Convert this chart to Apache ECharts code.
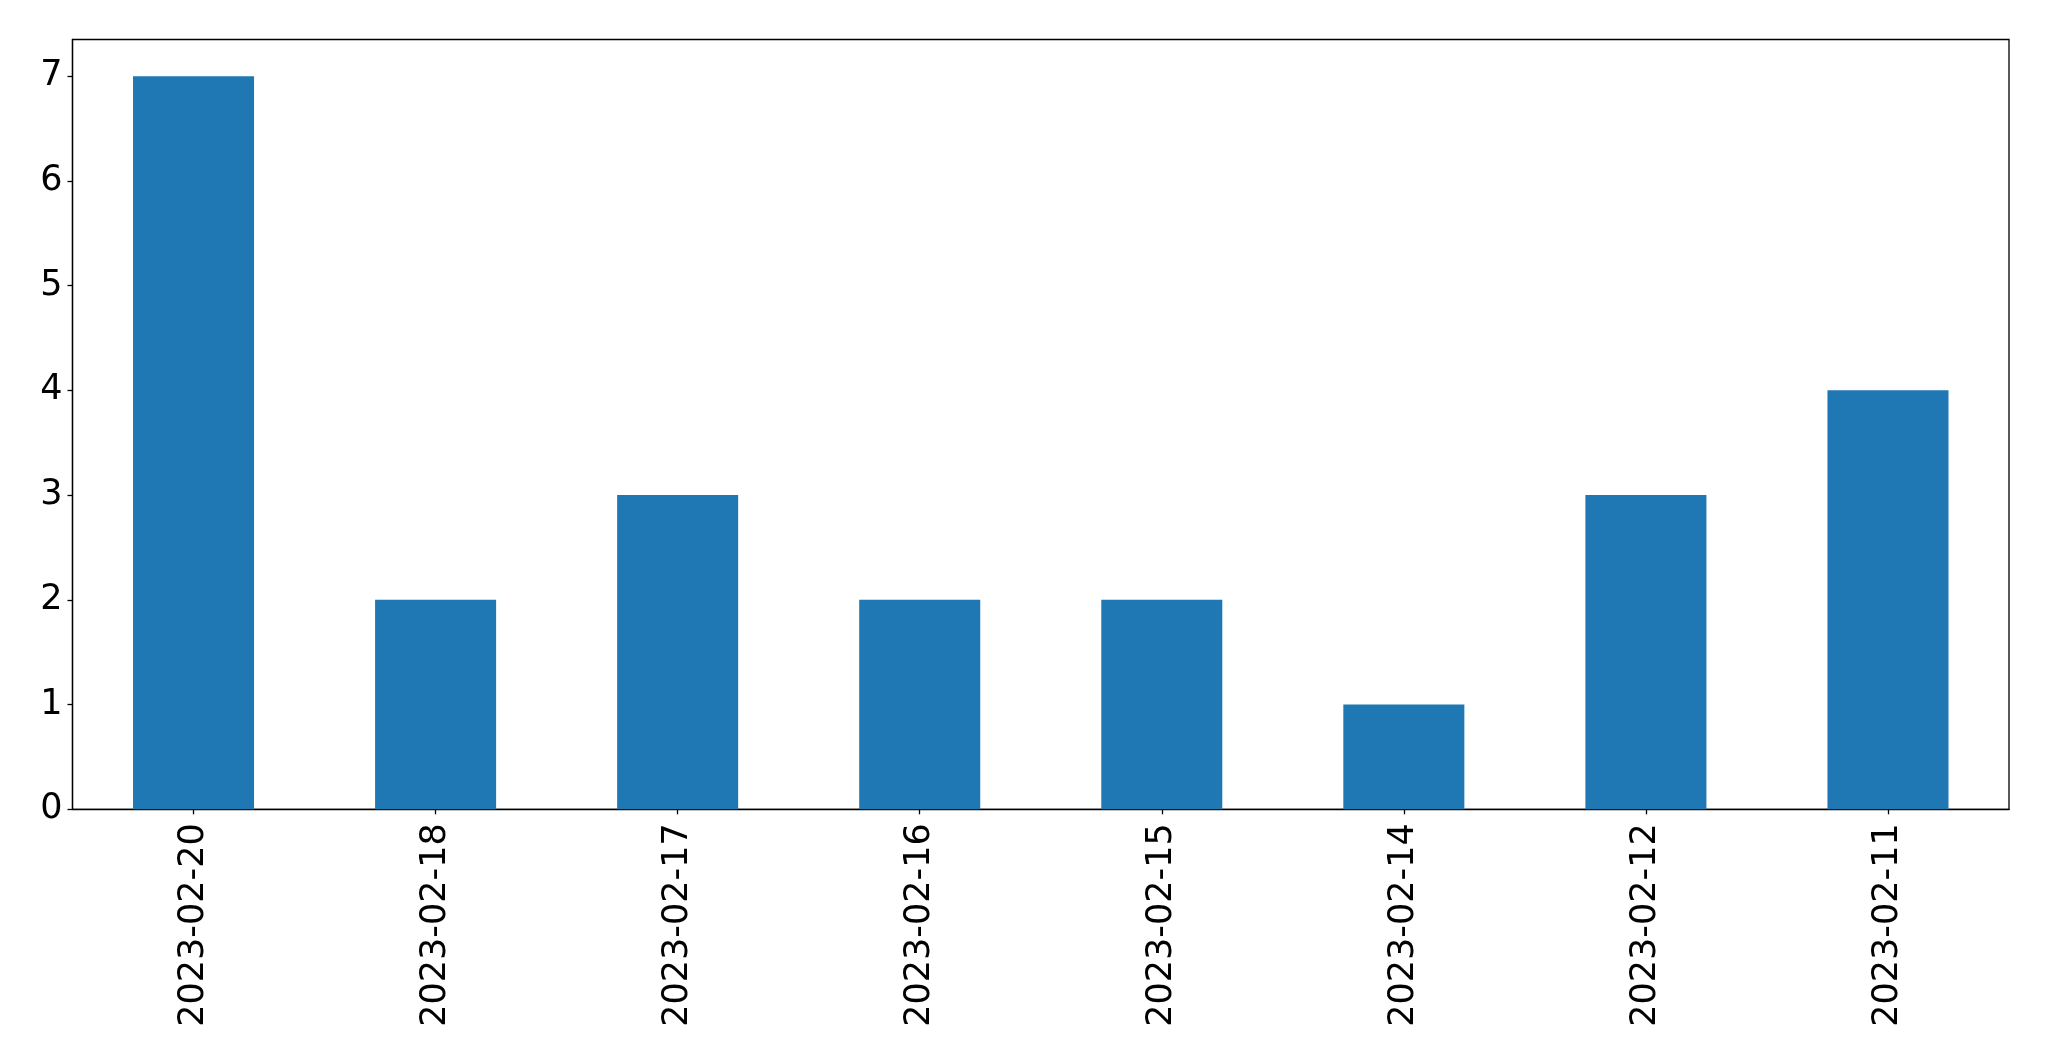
<!DOCTYPE html>
<html><head><meta charset="utf-8">
<script src="https://cdn.jsdelivr.net/npm/echarts@6/dist/echarts.min.js"></script>
<style>html,body{margin:0;padding:0;background:#fff}#c{width:2049px;height:1061px}</style>
</head><body><div id="c"></div>
<script>
const categories = ['2023-02-20','2023-02-18','2023-02-17','2023-02-16','2023-02-15','2023-02-14','2023-02-12','2023-02-11'];
const counts = [7, 2, 3, 2, 2, 1, 3, 4];
const yTicks = [0, 1, 2, 3, 4, 5, 6, 7];

const chart = echarts.init(document.getElementById('c'), null, {renderer: 'canvas'});
const font = 'DejaVu Sans';
chart.setOption({
  animation: false,
  grid: {left: 72.5, right: 40, top: 39.5, bottom: 251.7, show: true, borderColor: '#000', borderWidth: 1.3, backgroundColor: 'transparent'},
  xAxis: {
    type: 'category', data: categories, boundaryGap: true,
    axisLine: {show: true, lineStyle: {color: '#000', width: 1.3}},
    axisTick: {show: true, alignWithLabel: true, length: 5, lineStyle: {color: '#000', width: 1.3}},
    axisLabel: {rotate: 90, fontFamily: font, fontSize: 35, color: '#000', margin: 14, interval: 0},
    splitLine: {show: false}
  },
  yAxis: {
    type: 'value', min: 0, max: 7.35,
    axisLine: {show: true, lineStyle: {color: '#000', width: 1.3}},
    axisTick: {show: true, length: 5, lineStyle: {color: '#000', width: 1.3}, customValues: yTicks},
    axisLabel: {fontFamily: font, fontSize: 35, color: '#000', margin: 10, customValues: yTicks},
    splitLine: {show: false}
  },
  series: [{
    type: 'bar', data: counts, barWidth: '50%',
    itemStyle: {color: '#1f77b4'}
  }]
});
</script></body></html>
